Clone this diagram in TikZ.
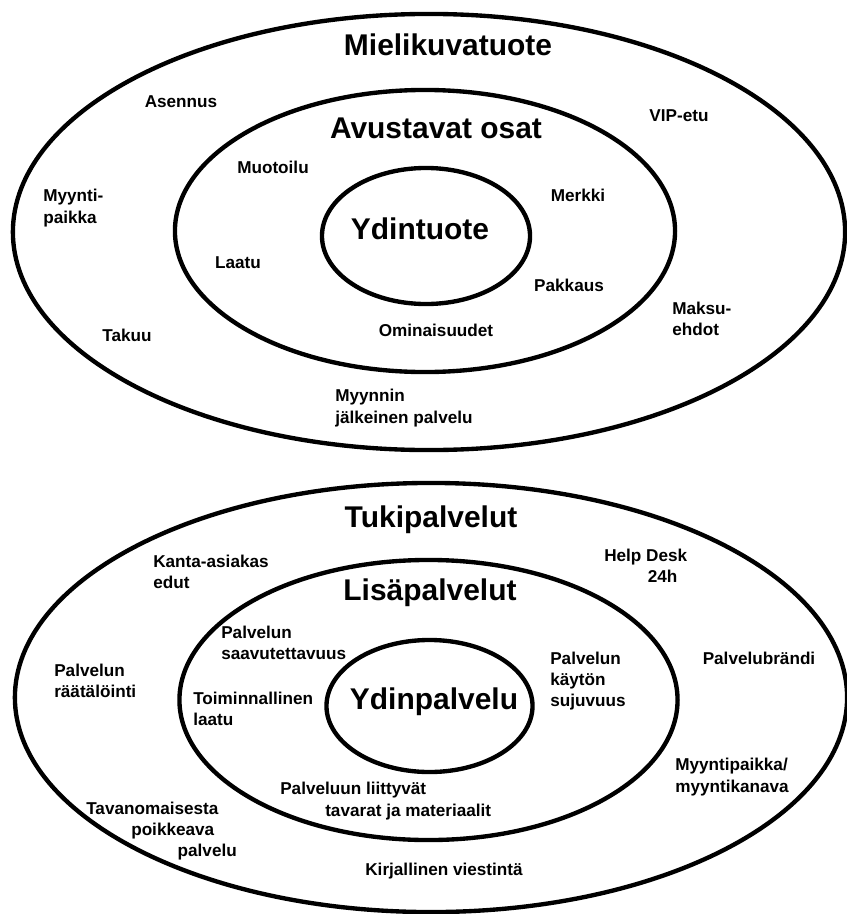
\documentclass[tikz,border=0pt]{standalone}
\usepackage{fontspec}
\setmainfont{Liberation Sans}
\usepackage{tikz}
\usetikzlibrary{shapes.geometric}
\tikzstyle{every ring} = []
\tikzstyle{ring} = [draw, ellipse, line width=3.1pt, inner sep=0pt, every ring]
\tikzstyle{title} = [font=\fontsize{21.3}{24}\selectfont\bfseries, inner sep=0pt]
\tikzstyle{item} = [font=\fontsize{12.2}{15.1}\selectfont\bfseries, inner sep=0pt]
\tikzstyle{lft} = [item, align=left, anchor=west]

\begin{document}
\begin{tikzpicture}[x=0.025cm, y=-0.025cm]
                    \useasboundingbox (0,0) rectangle (847,914);
                    % tuote
                    \node[ring, minimum width=20.8cm, minimum height=10.9cm] (mielikuva) at (429,232) {};
                    \node[ring, minimum width=12.5cm, minimum height=7.05cm] (avustavat) at (425,231) {};
                    \node[ring, minimum width=5.2cm, minimum height=3.4cm] (ydintuote) at (426,236) {};

                    \node[title] (mielikuvat) at (448,45) {Mielikuvatuote};
                    \node[title] (avustavatt) at (436,128) {Avustavat osat};
                    \node[title] (ydintuotet) at (420,229) {Ydintuote};

                    \node[item] (asennus) at (181,102) {Asennus};
                    \node[item] (vipetu) at (679,116) {VIP-etu};
                    \node[item] (muotoilu) at (273,167) {Muotoilu};
                    \node[lft] (myyntipaikka) at (43,208) {Myynti-\\paikka};
                    \node[item] (merkki) at (578,195) {Merkki};
                    \node[item] (laatu) at (238,263) {Laatu};
                    \node[item] (pakkaus) at (569,285) {Pakkaus};
                    \node[lft] (maksuehdot) at (672,319) {Maksu-\\ehdot};
                    \node[item] (takuu) at (127,335) {Takuu};
                    \node[item] (ominaisuudet) at (436,330) {Ominaisuudet};
                    \node[lft] (myynnin) at (335,408) {Myynnin\\j\"alkeinen palvelu};

                    % palvelu
                    \node[ring, minimum width=20.8cm, minimum height=10.725cm] (tuki) at (431,697.5) {};
                    \node[ring, minimum width=12.45cm, minimum height=7.0cm] (lisa) at (428.5,700) {};
                    \node[ring, minimum width=5.15cm, minimum height=3.3cm] (ydinpalvelu) at (429.5,706) {};

                    \node[title] (tukit) at (431,520) {Tukipalvelut};
                    \node[title] (lisat) at (430,593) {Lis\"apalvelut};
                    \node[title] (ydinpalvelut) at (434,702) {Ydinpalvelu};

                    \node[lft] (kanta) at (153,572) {Kanta-asiakas\\edut};
                    \node[lft] (helpdesk) at (604,566) {Help Desk\\\hspace*{31pt}24h};
                    \node[lft] (saavutettavuus) at (221,643) {Palvelun\\saavutettavuus};
                    \node[lft] (raatalointi) at (54,681) {Palvelun\\r\"a\"at\"al\"ointi};
                    \node[lft] (sujuvuus) at (550,681) {Palvelun\\k\"ayt\"on\\sujuvuus};
                    \node[item] (palvelubrandi) at (759,658) {Palvelubr\"andi};
                    \node[lft] (toiminnallinen) at (193,709) {Toiminnallinen\\laatu};
                    \node[lft] (myyntikanava) at (675,777) {Myyntipaikka/\\myyntikanava};
                    \node[lft] (tavarat) at (280,801) {Palveluun liittyv\"at\\\hspace*{32pt}tavarat ja materiaalit};
                    \node[lft] (tavanomaisesta) at (86,831) {Tavanomaisesta\\\hspace*{32pt}poikkeava\\\hspace*{65pt}palvelu};
                    \node[item] (viestinta) at (444,871) {Kirjallinen viestint\"a};
                \end{tikzpicture}
\end{document}
